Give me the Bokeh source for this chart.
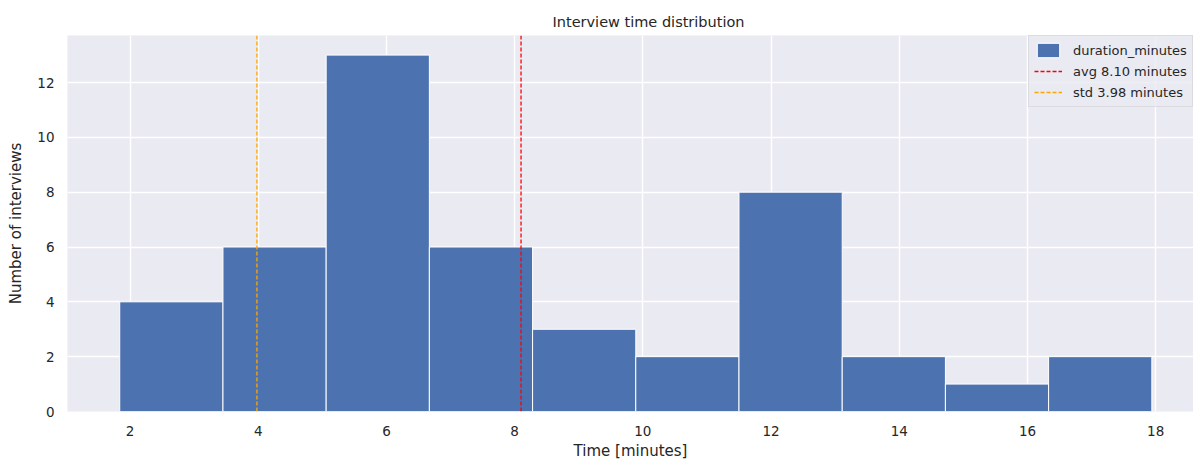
from bokeh.plotting import figure
from bokeh.embed import file_html
from bokeh.resources import INLINE
from bokeh.models import Range1d, SingleIntervalTicker, ColumnDataSource

# Data
bin_edges = [1.84, 3.45, 5.06, 6.67, 8.28, 9.89, 11.50, 13.11, 14.72, 16.33, 17.94]
counts = [4, 6, 13, 6, 3, 2, 8, 2, 1, 2]
avg_minutes = 8.10
std_minutes = 3.98

y_top = max(counts) * 1.055
FONT = "DejaVu Sans"
TXT = "#262626"

p = figure(width=1193, height=462, output_backend="svg", toolbar_location=None,
           title="Interview time distribution",
           x_range=Range1d(1.025, 18.59), y_range=Range1d(0, y_top),
           min_border_left=67, min_border_right=0, min_border_top=35, min_border_bottom=51)

p.background_fill_color = "#EAEAF2"
p.border_fill_color = "white"
p.outline_line_color = None

src = ColumnDataSource(dict(left=bin_edges[:-1], right=bin_edges[1:], top=counts,
                            bottom=[0] * len(counts)))
p.quad(left="left", right="right", top="top", bottom="bottom", source=src,
       fill_color="#4C72B0", line_color="white", line_width=1,
       legend_label="duration_minutes")

p.line(x=[avg_minutes, avg_minutes], y=[0, y_top], line_color="#FF0000", line_width=1.3,
       line_dash="4 2", legend_label=f"avg {avg_minutes:.2f} minutes")
p.line(x=[std_minutes, std_minutes], y=[0, y_top], line_color="#FFA500", line_width=1.3,
       line_dash="4 2", legend_label=f"std {std_minutes:.2f} minutes")

# axes
p.xaxis.ticker = SingleIntervalTicker(interval=2)
p.yaxis.ticker = SingleIntervalTicker(interval=2)
p.xaxis.axis_label = "Time [minutes]"
p.yaxis.axis_label = "Number of interviews"
for ax in (p.xaxis[0], p.yaxis[0]):
    ax.axis_line_color = None
    ax.major_tick_line_color = None
    ax.minor_tick_line_color = None
    ax.major_label_text_font = FONT
    ax.major_label_text_font_size = "13.5px"
    ax.major_label_text_color = TXT
    ax.axis_label_text_font = FONT
    ax.axis_label_text_font_size = "15px"
    ax.axis_label_text_font_style = "normal"
    ax.axis_label_text_color = TXT
p.xaxis.major_label_standoff = 8
p.yaxis.major_label_standoff = 7
p.xaxis.axis_label_standoff = 3
p.yaxis.axis_label_standoff = 9

p.grid.grid_line_color = "white"
p.grid.grid_line_width = 1.4

p.title.text_font = FONT
p.title.text_font_size = "14.5px"
p.title.text_font_style = "normal"
p.title.text_color = TXT
p.title.align = "left"
p.title.offset = 485
p.title.standoff = 12

lg = p.legend[0]
lg.location = (961, 304)
lg.padding = 5
lg.spacing = 3
lg.margin = 0
lg.glyph_width = 28
lg.glyph_height = 18
lg.label_height = 18
lg.label_standoff = 11
lg.label_text_font = FONT
lg.label_text_font_size = "13px"
lg.label_text_color = TXT
lg.background_fill_color = "#EAEAF2"
lg.background_fill_alpha = 0.8
lg.border_line_color = "#cccccc"
lg.border_line_width = 1

open("out.html", "w").write(file_html(p, INLINE))
